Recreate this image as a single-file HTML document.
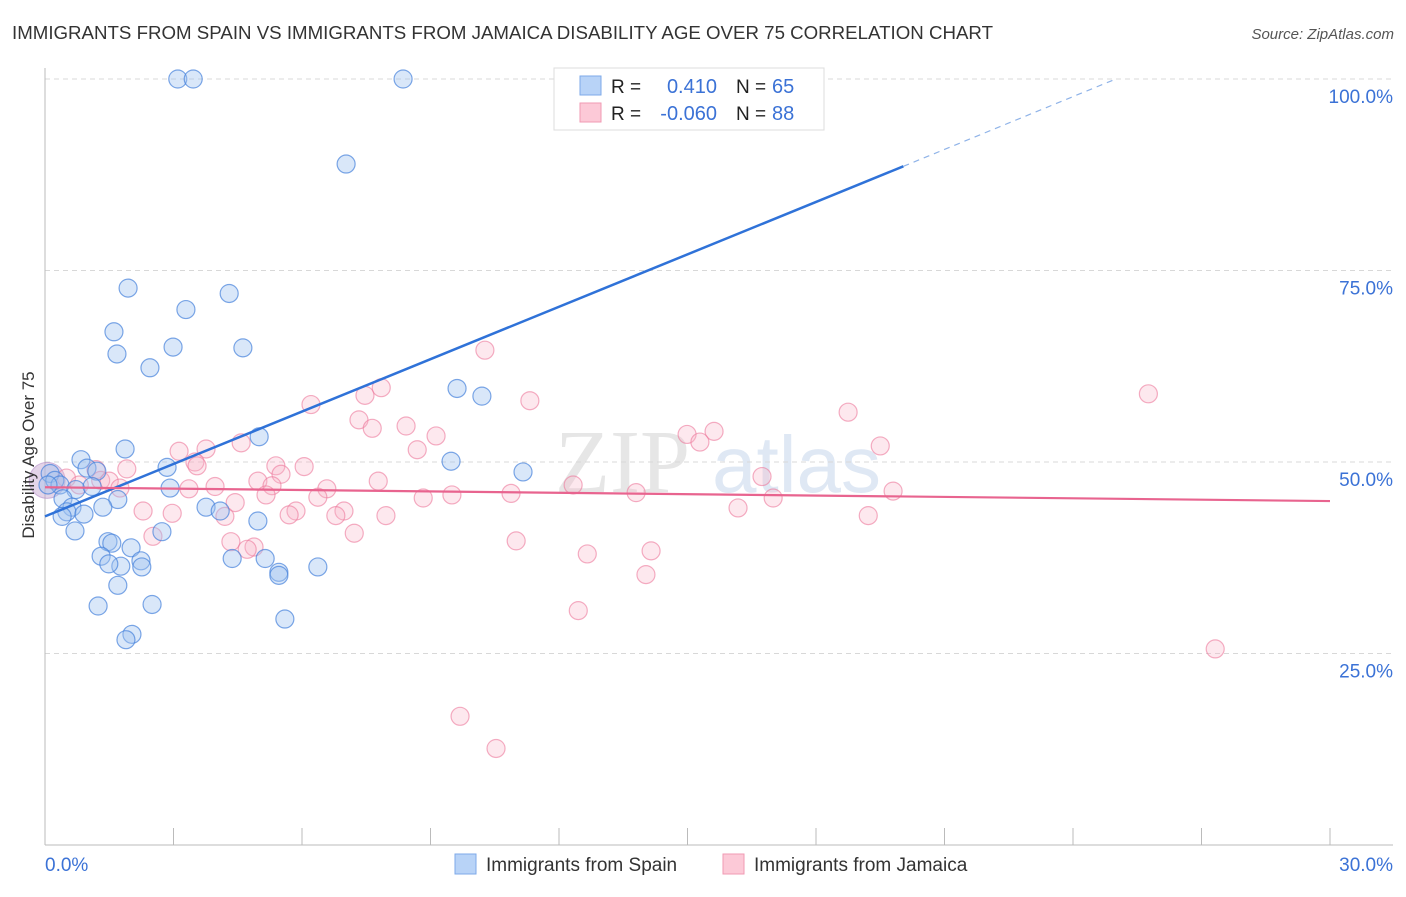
<!DOCTYPE html>
<html><head><meta charset="utf-8"><style>
body{margin:0;background:#fff;font-family:"Liberation Sans",sans-serif;}
</style></head><body>
<svg id="chart" width="1406" height="892" xmlns="http://www.w3.org/2000/svg" font-family="Liberation Sans, sans-serif">
<text x="12" y="39" font-size="18.5" fill="#333" textLength="981" lengthAdjust="spacingAndGlyphs">IMMIGRANTS FROM SPAIN VS IMMIGRANTS FROM JAMAICA DISABILITY AGE OVER 75 CORRELATION CHART</text>
<text x="1394" y="39" font-size="15" fill="#555" text-anchor="end" font-style="italic">Source: ZipAtlas.com</text>
<text x="555" y="492" font-size="90" fill="#e6e6e6" font-family="Liberation Serif, serif">ZIP</text>
<text x="712" y="492" font-size="80" fill="#dfe8f4">atlas</text>
<g id="grid"></g><g id="axes"></g><g id="pts"></g><g id="lines"></g>
<text transform="translate(34,455) rotate(-90)" font-size="17" fill="#333" text-anchor="middle">Disability Age Over 75</text>
<g>
<rect x="554" y="68" width="270" height="62" fill="#fff" stroke="#ddd"/>
<rect x="580" y="76" width="21" height="19" fill="#b8d3f7" stroke="#7ea9e8"/>
<rect x="580" y="103" width="21" height="19" fill="#fcc9d7" stroke="#f09ab3"/>
<text x="611" y="93" font-size="19" fill="#222">R =</text><text x="717" y="93" font-size="20" fill="#3b72d6" text-anchor="end">0.410</text>
<text x="736" y="93" font-size="19" fill="#222">N =</text><text x="772" y="93" font-size="20" fill="#3b72d6">65</text>
<text x="611" y="120" font-size="19" fill="#222">R =</text><text x="717" y="120" font-size="20" fill="#3b72d6" text-anchor="end">-0.060</text>
<text x="736" y="120" font-size="19" fill="#222">N =</text><text x="772" y="120" font-size="20" fill="#3b72d6">88</text>
</g>
<g>
<rect x="455" y="854" width="21" height="20" fill="#b8d3f7" stroke="#7ea9e8"/>
<text x="486" y="871" font-size="19" fill="#333">Immigrants from Spain</text>
<rect x="723" y="854" width="21" height="20" fill="#fcc9d7" stroke="#f09ab3"/>
<text x="754" y="871" font-size="19" fill="#333">Immigrants from Jamaica</text>
</g>
</svg>
<script>
const xTicks=[0,30];
const yTicks=[25,50,75,100];
const spainX=[3.1,3.46,8.36,16.58,7.03,1.94,3.29,4.3,1.61,1.68,2.99,4.62,2.45,9.62,10.2,5.0,1.87,0.84,0.98,1.21,11.16,9.48,2.85,0.12,0.23,0.35,0.07,0.72,1.1,2.92,0.42,1.7,1.35,0.63,0.51,0.91,0.4,3.76,4.09,4.97,0.7,2.73,1.47,1.56,2.01,1.31,2.24,2.26,1.77,1.49,4.37,5.14,6.37,5.46,5.46,1.7,2.5,1.24,5.6,2.03,1.89];
const spainY=[100,100,100,100,88.9,72.7,69.9,72.0,67.0,64.1,65.0,64.9,62.3,59.6,58.6,53.3,51.7,50.3,49.2,48.8,48.7,50.1,49.3,48.5,47.6,47.0,47.0,46.4,46.8,46.6,45.2,45.1,44.1,44.1,43.5,43.2,42.9,44.1,43.6,42.3,41.0,40.9,39.6,39.4,38.8,37.7,37.1,36.3,36.4,36.7,37.4,37.4,36.3,35.6,35.2,33.9,31.4,31.2,29.5,27.5,26.8];
const jamX=[10.27,7.85,7.47,11.32,6.21,18.75,25.76,7.33,7.64,8.43,15.62,14.99,15.29,4.58,9.13,8.69,19.5,3.13,3.76,3.5,3.55,5.39,6.05,1.91,1.19,4.97,5.51,7.78,16.74,3.97,3.36,5.3,6.58,12.33,13.8,19.8,10.88,9.5,8.83,5.16,6.37,4.44,5.86,6.98,2.29,2.97,4.2,5.7,6.79,7.96,16.18,17.0,19.22,2.52,4.34,4.88,7.22,11.0,14.15,12.66,4.72,14.03,12.45,27.32,9.69,10.53,1.3,1.5,0.5,0.8,1.75];
const jamY=[64.6,59.7,58.7,58.0,57.5,56.5,58.9,55.5,54.4,54.7,54.0,53.6,52.6,52.5,53.4,51.6,52.1,51.4,51.7,50.0,49.5,49.5,49.4,49.1,49.0,47.5,48.4,47.5,48.1,46.8,46.5,46.9,46.5,47.0,46.0,46.2,45.9,45.7,45.3,45.7,45.4,44.7,43.6,43.6,43.6,43.3,42.9,43.1,43.0,43.0,44.0,45.3,43.0,40.3,39.6,38.9,40.7,39.7,38.4,38.0,38.6,35.3,30.6,25.6,16.8,12.6,47.6,47.5,47.9,47.0,46.6];
const spainTrend=[[0,42.9],[20.04,88.6]];
const spainDash=[[20.04,88.6],[25.0,100]];
const jamTrend=[[0,46.7],[30,44.9]];
const X=v=>45+v/30*1285, Y=v=>845-v/100*766;
const NS='http://www.w3.org/2000/svg';
function mk(t,a,p){const e=document.createElementNS(NS,t);for(const k in a)e.setAttribute(k,a[k]);p.appendChild(e);return e;}
const grid=document.getElementById('grid'),axes=document.getElementById('axes'),pts=document.getElementById('pts'),lines=document.getElementById('lines');
yTicks.forEach(v=>{
 const l=mk('line',{x1:45,x2:1393,y1:Y(v),y2:Y(v),stroke:'#d8d8d8','stroke-dasharray':'5,4'},grid);
 
 
 const t=mk('text',{x:1393,y:Y(v)+24,'font-size':19,fill:'#3b72d6','text-anchor':'end'},axes);t.textContent=v.toFixed(1)+'%';
 
 
});
mk('line',{x1:45,x2:45,y1:68,y2:845,stroke:'#bbb'},axes);
mk('line',{x1:45,x2:1393,y1:845,y2:845,stroke:'#bbb'},axes);
for(let i=0;i<=10;i++){mk('line',{x1:X(i*3),x2:X(i*3),y1:828,y2:845,stroke:'#bbb'},axes);}
xTicks.forEach((v,i)=>{const t=mk('text',{x:i?1393:45,y:871,'font-size':19,fill:'#3b72d6','text-anchor':i?'end':'start'},axes);t.textContent=v.toFixed(1)+'%';
 
 });
const big=mk('circle',{cx:X(0.05),cy:Y(47.6),r:18,fill:'rgba(200,170,210,0.5)',stroke:'rgba(180,140,200,0.6)'},pts);


jamX.forEach((x,i)=>{const c=mk('circle',{cx:X(x),cy:Y(jamY[i]),r:9,fill:'rgba(248,180,200,0.3)',stroke:'rgba(236,120,155,0.6)','stroke-width':1.2},pts);
 
 });
spainX.forEach((x,i)=>{const c=mk('circle',{cx:X(x),cy:Y(spainY[i]),r:9,fill:'rgba(160,195,240,0.4)',stroke:'rgba(70,130,220,0.7)','stroke-width':1.2},pts);
 
 });
let l=mk('line',{x1:X(spainTrend[0][0]),y1:Y(spainTrend[0][1]),x2:X(spainTrend[1][0]),y2:Y(spainTrend[1][1]),stroke:'#2f72d8','stroke-width':2.5},lines);


l=mk('line',{x1:X(spainDash[0][0]),y1:Y(spainDash[0][1]),x2:X(spainDash[1][0]),y2:Y(spainDash[1][1]),stroke:'#8fb3e8','stroke-width':1.2,'stroke-dasharray':'6,5'},lines);


l=mk('line',{x1:X(jamTrend[0][0]),y1:Y(jamTrend[0][1]),x2:X(jamTrend[1][0]),y2:Y(jamTrend[1][1]),stroke:'#e8648f','stroke-width':2.2},lines);


</script>
</body></html>
